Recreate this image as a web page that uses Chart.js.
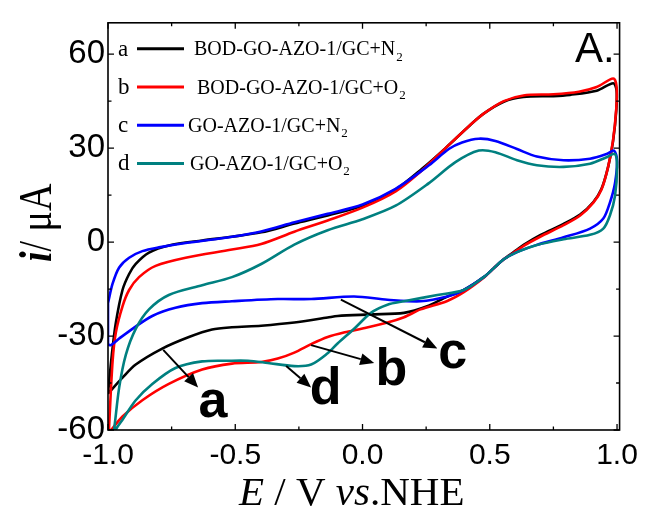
<!DOCTYPE html>
<html>
<head>
<meta charset="utf-8">
<script src="https://cdn.jsdelivr.net/npm/chart.js@4.4.1/dist/chart.umd.min.js"></script>
<style>
  html, body { margin: 0; padding: 0; background: #fff; }
  #wrap { width: 646px; height: 509px; }
</style>
</head>
<body>
<div id="wrap"><canvas id="cvChart" width="646" height="509"></canvas></div>
<script>
// Cyclic voltammograms, each traced as a closed loop:
// anodic sweep -1.0 -> 1.0 V, then cathodic sweep back to -1.0 V
const potA = [-1.0, -0.985, -0.969, -0.943, -0.917, -0.891, -0.839, -0.761, -0.63, -0.513, -0.398, -0.267, -0.137, 0.0, 0.13, 0.235, 0.326, 0.418, 0.476, 0.555, 0.632, 0.75, 0.815, 0.92, 0.985, 0.998,
              0.997, 0.984, 0.965, 0.939, 0.907, 0.855, 0.79, 0.698, 0.633, 0.594, 0.555, 0.515, 0.476, 0.398, 0.333, 0.254, 0.163, 0.033, -0.098, -0.137, -0.268, -0.398, -0.513, -0.591, -0.682, -0.787, -0.891, -0.943, -1.0];
const curA = [-48.4, -36.0, -25.7, -15.3, -10.2, -7.0, -3.4, -1.1, 0.5, 1.7, 3.1, 5.9, 8.5, 11.6, 16.8, 23.5, 30.0, 37.0, 41.0, 44.8, 46.3, 46.6, 47.0, 48.3, 50.7, 48.5,
              42.0, 32.0, 24.0, 17.0, 12.8, 8.8, 5.8, 2.2, -0.9, -3.2, -5.5, -8.4, -11.2, -15.3, -17.4, -20.5, -22.6, -23.1, -23.6, -24.1, -25.7, -26.7, -27.2, -27.9, -30.3, -34.0, -39.1, -43.3, -48.4];

const potB = [-0.997, -0.982, -0.969, -0.943, -0.917, -0.878, -0.813, -0.695, -0.513, -0.398, -0.268, -0.137, 0.0, 0.13, 0.235, 0.326, 0.418, 0.476, 0.555, 0.632, 0.75, 0.85, 0.92, 0.985, 0.998,
              0.997, 0.984, 0.965, 0.939, 0.907, 0.855, 0.79, 0.698, 0.633, 0.594, 0.555, 0.515, 0.476, 0.398, 0.333, 0.228, 0.163, 0.098, 0.0, -0.07, -0.137, -0.202, -0.268, -0.333, -0.398, -0.513, -0.63, -0.761, -0.865, -0.943, -0.997];
const curB = [-61.0, -38.1, -28.8, -20.5, -15.3, -11.2, -7.6, -5.0, -2.4, -0.6, 3.3, 6.9, 11.0, 16.2, 23.0, 30.0, 37.0, 41.0, 45.0, 46.8, 47.2, 48.0, 49.5, 52.2, 49.8,
              42.6, 32.3, 24.0, 16.8, 12.6, 8.5, 5.4, 1.7, -1.2, -3.4, -5.5, -8.4, -11.4, -16.0, -18.8, -21.5, -24.0, -25.7, -27.6, -28.8, -30.3, -32.6, -35.3, -37.2, -38.3, -38.8, -40.7, -45.3, -50.5, -55.7, -61.0];

const potC = [-1.0, -0.982, -0.956, -0.917, -0.865, -0.80, -0.695, -0.513, -0.398, -0.267, -0.137, 0.0, 0.13, 0.261, 0.339, 0.391, 0.457, 0.522, 0.607, 0.685, 0.79, 0.894, 0.959, 0.988, 1.0,
              0.992, 0.972, 0.946, 0.894, 0.79, 0.685, 0.607, 0.555, 0.515, 0.476, 0.398, 0.333, 0.228, 0.098, -0.033, -0.202, -0.333, -0.513, -0.63, -0.735, -0.826, -0.904, -0.956, -0.989, -1.0, -1.0];
const curC = [-19.5, -13.3, -8.1, -5.0, -2.9, -1.7, -0.3, 1.7, 3.4, 6.3, 9.0, 12.0, 17.0, 24.5, 29.7, 31.8, 33.0, 32.3, 29.7, 27.3, 26.1, 26.6, 28.1, 29.2, 26.1,
              18.8, 12.6, 7.5, 4.3, 1.5, -0.9, -3.2, -5.5, -8.4, -11.2, -15.3, -17.4, -18.9, -18.4, -17.4, -18.2, -18.2, -18.9, -19.5, -21.0, -23.6, -27.7, -30.8, -32.9, -32.4, -19.5];

const potD = [-0.985, -0.976, -0.956, -0.930, -0.891, -0.839, -0.761, -0.63, -0.513, -0.398, -0.268, -0.137, 0.0, 0.13, 0.261, 0.365, 0.457, 0.522, 0.607, 0.685, 0.79, 0.894, 0.959, 0.992, 1.0,
              0.992, 0.972, 0.946, 0.894, 0.79, 0.685, 0.607, 0.555, 0.515, 0.476, 0.398, 0.294, 0.163, 0.098, 0.033, -0.033, -0.098, -0.137, -0.202, -0.268, -0.372, -0.45, -0.528, -0.63, -0.735, -0.826, -0.891, -0.943, -0.969, -0.985];
const curD = [-64.0, -59.8, -46.4, -36.0, -27.7, -21.5, -16.9, -13.8, -11.2, -7.0, -0.8, 3.8, 7.3, 11.6, 18.8, 25.5, 29.2, 28.7, 26.1, 24.5, 24.0, 25.0, 27.1, 28.1, 24.0,
              14.7, 8.5, 4.3, 2.3, 0.9, -0.9, -3.2, -5.5, -8.4, -11.2, -15.3, -16.9, -18.9, -20.0, -22.6, -27.7, -32.4, -35.5, -39.1, -39.6, -38.6, -37.9, -37.9, -38.1, -40.2, -45.3, -50.5, -56.7, -59.8, -64.0];

const xTicks = [-1.0, -0.5, 0.0, 0.5, 1.0];
const xMinor = [-0.75, -0.25, 0.25, 0.75];
const yTicks = [-60, -30, 0, 30, 60];
const yMinor = [-45, -15, 15, 45];

const seriesKeys = ['a', 'b', 'c', 'd'];
const seriesNames = ['BOD-GO-AZO-1/GC+N', 'BOD-GO-AZO-1/GC+O', 'GO-AZO-1/GC+N', 'GO-AZO-1/GC+O'];
const seriesColors = ['#000000', '#ff0000', '#0000ff', '#008080'];

// arrows pointing from a curve to its letter (data units)
const callouts = [
  { key: 'a', from: [-0.783, -34.4], to: [-0.646, -46.4], at: [-0.588, -55.8] },
  { key: 'd', from: [-0.300, -39.6], to: [-0.202, -46.4], at: [-0.145, -51.8] },
  { key: 'b', from: [-0.202, -32.9], to: [0.046, -38.6], at: [0.113, -45.6] },
  { key: 'c', from: [-0.085, -18.4], to: [0.294, -34.0], at: [0.354, -40.3] }
];

function toPoints(pot, cur) {
  return pot.map((e, i) => ({ x: e, y: cur[i] }));
}

const loops = [[potA, curA], [potB, curB], [potC, curC], [potD, curD]];

const datasets = loops.map((l, k) => ({
  label: seriesNames[k] + '2',
  data: toPoints(l[0], l[1]),
  showLine: true,
  borderColor: seriesColors[k],
  borderWidth: 2.6,
  pointRadius: 0,
  tension: 0.3,
  order: 4 - k
}));

const serif = '"Liberation Serif", "Times New Roman", serif';
const sans = '"Liberation Sans", Arial, sans-serif';

// frame, ticks, legend, callouts and axis titles
const decorations = {
  id: 'decorations',
  afterDatasetsDraw(chart) {
    const ctx = chart.ctx;
    const area = chart.chartArea;
    const sx = chart.scales.x, sy = chart.scales.y;
    ctx.save();

    // frame with inward ticks on all four sides
    ctx.strokeStyle = '#000';
    ctx.lineWidth = 1.6;
    ctx.strokeRect(area.left, area.top, area.right - area.left, area.bottom - area.top);
    ctx.lineWidth = 1.3;
    const tickX = (v, len) => {
      const px = sx.getPixelForValue(v);
      ctx.beginPath();
      ctx.moveTo(px, area.bottom); ctx.lineTo(px, area.bottom - len);
      ctx.moveTo(px, area.top); ctx.lineTo(px, area.top + len);
      ctx.stroke();
    };
    const tickY = (v, len) => {
      const py = sy.getPixelForValue(v);
      ctx.beginPath();
      ctx.moveTo(area.left, py); ctx.lineTo(area.left + len, py);
      ctx.moveTo(area.right, py); ctx.lineTo(area.right - len, py);
      ctx.stroke();
    };
    xTicks.forEach(v => tickX(v, 6));
    xMinor.forEach(v => tickX(v, 3.5));
    yTicks.forEach(v => tickY(v, 6));
    yMinor.forEach(v => tickY(v, 3.5));

    // legend
    seriesKeys.forEach((key, k) => {
      const rowY = area.top + 26 + k * 38.2;
      ctx.fillStyle = '#000';
      ctx.font = '23px ' + serif;
      ctx.textAlign = 'left';
      ctx.textBaseline = 'alphabetic';
      ctx.fillText(key, area.left + 10, rowY + 7);
      ctx.strokeStyle = seriesColors[k];
      ctx.lineWidth = 3;
      ctx.beginPath();
      ctx.moveTo(area.left + 29, rowY);
      ctx.lineTo(area.left + 76, rowY);
      ctx.stroke();
      const tx = area.left + [86, 89, 80, 82][k];
      ctx.font = '20px ' + serif;
      ctx.fillText(seriesNames[k], tx, rowY + 6.5);
      const w = ctx.measureText(seriesNames[k]).width;
      ctx.font = '13px ' + serif;
      ctx.fillText('2', tx + w + 1, rowY + 12);
    });

    // panel label
    ctx.fillStyle = '#000';
    ctx.font = '42px ' + sans;
    ctx.textAlign = 'right';
    ctx.fillText('A.', area.right - 5, area.top + 39);

    // callout arrows and letters
    ctx.strokeStyle = '#000';
    ctx.fillStyle = '#000';
    ctx.lineWidth = 2;
    callouts.forEach(c => {
      const x0 = sx.getPixelForValue(c.from[0]), y0 = sy.getPixelForValue(c.from[1]);
      const x1 = sx.getPixelForValue(c.to[0]), y1 = sy.getPixelForValue(c.to[1]);
      const ang = Math.atan2(y1 - y0, x1 - x0);
      const hl = 14, hw = 6;
      const bx = x1 - hl * Math.cos(ang), by = y1 - hl * Math.sin(ang);
      ctx.beginPath();
      ctx.moveTo(x0, y0); ctx.lineTo(bx, by);
      ctx.stroke();
      ctx.beginPath();
      ctx.moveTo(x1, y1);
      ctx.lineTo(bx + hw * Math.sin(ang), by - hw * Math.cos(ang));
      ctx.lineTo(bx - hw * Math.sin(ang), by + hw * Math.cos(ang));
      ctx.closePath();
      ctx.fill();
      ctx.font = 'bold 52px ' + sans;
      ctx.textAlign = 'center';
      ctx.textBaseline = 'alphabetic';
      ctx.fillText(c.key, sx.getPixelForValue(c.at[0]), sy.getPixelForValue(c.at[1]));
    });
    ctx.restore();
  },
  afterDraw(chart) {
    const ctx = chart.ctx;
    ctx.save();
    ctx.fillStyle = '#000';
    ctx.textAlign = 'left';
    ctx.textBaseline = 'alphabetic';

    // x axis title: E / V vs.NHE
    const parts = [['italic', 'E'], ['normal', ' / V '], ['italic', 'vs'], ['normal', '.NHE']];
    let x = 239;
    parts.forEach(p => {
      ctx.font = p[0] + ' 41px ' + serif;
      ctx.fillText(p[1], x, 505);
      x += ctx.measureText(p[1]).width;
    });

    // y axis title: i / µA
    ctx.translate(51, 262);
    ctx.rotate(-Math.PI / 2);
    ctx.scale(1, 1.2);
    const yparts = [['italic bold', 'i'], ['normal', '/ \u03bcA']];
    let y = 0;
    yparts.forEach(p => {
      ctx.font = p[0] + ' 38px ' + serif;
      ctx.fillText(p[1], y, 0);
      y += ctx.measureText(p[1]).width;
    });
    ctx.restore();
  }
};

new Chart(document.getElementById('cvChart'), {
  type: 'scatter',
  data: { datasets: datasets },
  options: {
    responsive: false,
    animation: false,
    devicePixelRatio: 1,
    layout: { padding: { top: 13, right: 23, left: 0, bottom: 0 } },
    plugins: {
      legend: { display: false },
      tooltip: { enabled: false }
    },
    scales: {
      x: {
        type: 'linear',
        min: -1.0,
        max: 1.01,
        grid: { display: false, drawTicks: false },
        border: { display: false },
        afterBuildTicks: scale => { scale.ticks = xTicks.map(v => ({ value: v })); },
        afterFit: scale => { scale.height = 79; },
        ticks: {
          color: '#000',
          padding: 8,
          maxRotation: 0,
          font: { family: sans, size: 30 },
          callback: v => v.toFixed(1)
        }
      },
      y: {
        type: 'linear',
        min: -60,
        max: 70,
        grid: { display: false, drawTicks: false },
        border: { display: false },
        afterBuildTicks: scale => { scale.ticks = yTicks.map(v => ({ value: v })); },
        afterFit: scale => { scale.width = 108; },
        ticks: {
          color: '#000',
          padding: 3,
          font: { family: sans, size: 33 },
          callback: v => String(v)
        }
      }
    }
  },
  plugins: [decorations]
});
</script>
</body>
</html>
